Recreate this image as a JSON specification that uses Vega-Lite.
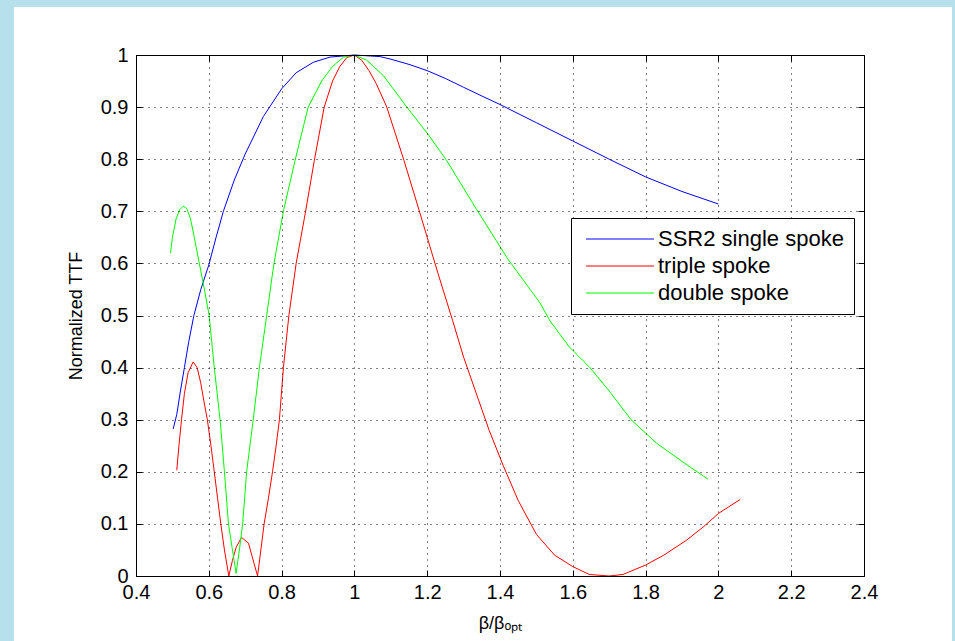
{
  "$schema": "https://vega.github.io/schema/vega-lite/v6.json",
  "width": 728,
  "height": 521,
  "autosize": "none",
  "padding": {"left": 136, "top": 55, "right": 91, "bottom": 65},
  "background": "#b7e0ed",
  "config": {
    "view": {"stroke": null},
    "font": "Liberation Sans",
    "axis": {
      "labelFont": "Liberation Sans",
      "titleFont": "Liberation Sans",
      "labelColor": "black",
      "titleColor": "black",
      "domainColor": "black",
      "tickColor": "black",
      "labelFontSize": 20,
      "titleFontSize": 18,
      "titleFontWeight": "normal",
      "labelFlush": false,
      "labelOverlap": false
    },
    "legend": {"labelFont": "Liberation Sans"}
  },
  "datasets": {
    "panel": [{"x0": 0.0648, "x1": 2.6418, "y0": -0.2, "y1": 1.0921}],
    "curves": [
      {"series": "SSR2 single spoke", "x": 0.502, "y": 0.282},
      {"series": "SSR2 single spoke", "x": 0.512, "y": 0.31},
      {"series": "SSR2 single spoke", "x": 0.522, "y": 0.355},
      {"series": "SSR2 single spoke", "x": 0.533, "y": 0.40},
      {"series": "SSR2 single spoke", "x": 0.545, "y": 0.45},
      {"series": "SSR2 single spoke", "x": 0.559, "y": 0.50},
      {"series": "SSR2 single spoke", "x": 0.578, "y": 0.55},
      {"series": "SSR2 single spoke", "x": 0.60, "y": 0.597},
      {"series": "SSR2 single spoke", "x": 0.62, "y": 0.65},
      {"series": "SSR2 single spoke", "x": 0.64, "y": 0.70},
      {"series": "SSR2 single spoke", "x": 0.67, "y": 0.76},
      {"series": "SSR2 single spoke", "x": 0.70, "y": 0.81},
      {"series": "SSR2 single spoke", "x": 0.75, "y": 0.882},
      {"series": "SSR2 single spoke", "x": 0.80, "y": 0.935},
      {"series": "SSR2 single spoke", "x": 0.84, "y": 0.966},
      {"series": "SSR2 single spoke", "x": 0.887, "y": 0.986},
      {"series": "SSR2 single spoke", "x": 0.933, "y": 0.996},
      {"series": "SSR2 single spoke", "x": 1.00, "y": 1.0},
      {"series": "SSR2 single spoke", "x": 1.07, "y": 0.997},
      {"series": "SSR2 single spoke", "x": 1.10, "y": 0.992},
      {"series": "SSR2 single spoke", "x": 1.15, "y": 0.982},
      {"series": "SSR2 single spoke", "x": 1.20, "y": 0.97},
      {"series": "SSR2 single spoke", "x": 1.25, "y": 0.955},
      {"series": "SSR2 single spoke", "x": 1.30, "y": 0.938},
      {"series": "SSR2 single spoke", "x": 1.345, "y": 0.923},
      {"series": "SSR2 single spoke", "x": 1.40, "y": 0.905},
      {"series": "SSR2 single spoke", "x": 1.50, "y": 0.87},
      {"series": "SSR2 single spoke", "x": 1.60, "y": 0.835},
      {"series": "SSR2 single spoke", "x": 1.70, "y": 0.80},
      {"series": "SSR2 single spoke", "x": 1.80, "y": 0.766},
      {"series": "SSR2 single spoke", "x": 1.90, "y": 0.738},
      {"series": "SSR2 single spoke", "x": 2.00, "y": 0.714},

      {"series": "triple spoke", "x": 0.512, "y": 0.203},
      {"series": "triple spoke", "x": 0.518, "y": 0.25},
      {"series": "triple spoke", "x": 0.525, "y": 0.30},
      {"series": "triple spoke", "x": 0.533, "y": 0.35},
      {"series": "triple spoke", "x": 0.543, "y": 0.39},
      {"series": "triple spoke", "x": 0.557, "y": 0.411},
      {"series": "triple spoke", "x": 0.568, "y": 0.40},
      {"series": "triple spoke", "x": 0.578, "y": 0.37},
      {"series": "triple spoke", "x": 0.588, "y": 0.33},
      {"series": "triple spoke", "x": 0.596, "y": 0.30},
      {"series": "triple spoke", "x": 0.606, "y": 0.25},
      {"series": "triple spoke", "x": 0.615, "y": 0.20},
      {"series": "triple spoke", "x": 0.624, "y": 0.15},
      {"series": "triple spoke", "x": 0.633, "y": 0.10},
      {"series": "triple spoke", "x": 0.643, "y": 0.05},
      {"series": "triple spoke", "x": 0.655, "y": 0.0},
      {"series": "triple spoke", "x": 0.665, "y": 0.03},
      {"series": "triple spoke", "x": 0.675, "y": 0.055},
      {"series": "triple spoke", "x": 0.69, "y": 0.074},
      {"series": "triple spoke", "x": 0.709, "y": 0.063},
      {"series": "triple spoke", "x": 0.72, "y": 0.035},
      {"series": "triple spoke", "x": 0.734, "y": 0.0},
      {"series": "triple spoke", "x": 0.743, "y": 0.05},
      {"series": "triple spoke", "x": 0.752, "y": 0.10},
      {"series": "triple spoke", "x": 0.764, "y": 0.15},
      {"series": "triple spoke", "x": 0.775, "y": 0.20},
      {"series": "triple spoke", "x": 0.785, "y": 0.25},
      {"series": "triple spoke", "x": 0.794, "y": 0.30},
      {"series": "triple spoke", "x": 0.805, "y": 0.40},
      {"series": "triple spoke", "x": 0.82, "y": 0.50},
      {"series": "triple spoke", "x": 0.84, "y": 0.60},
      {"series": "triple spoke", "x": 0.866, "y": 0.70},
      {"series": "triple spoke", "x": 0.89, "y": 0.798},
      {"series": "triple spoke", "x": 0.917, "y": 0.90},
      {"series": "triple spoke", "x": 0.94, "y": 0.95},
      {"series": "triple spoke", "x": 0.96, "y": 0.978},
      {"series": "triple spoke", "x": 0.979, "y": 0.995},
      {"series": "triple spoke", "x": 1.0, "y": 1.0},
      {"series": "triple spoke", "x": 1.02, "y": 0.99},
      {"series": "triple spoke", "x": 1.04, "y": 0.97},
      {"series": "triple spoke", "x": 1.06, "y": 0.945},
      {"series": "triple spoke", "x": 1.089, "y": 0.90},
      {"series": "triple spoke", "x": 1.136, "y": 0.798},
      {"series": "triple spoke", "x": 1.17, "y": 0.72},
      {"series": "triple spoke", "x": 1.20, "y": 0.65},
      {"series": "triple spoke", "x": 1.23, "y": 0.58},
      {"series": "triple spoke", "x": 1.27, "y": 0.49},
      {"series": "triple spoke", "x": 1.30, "y": 0.42},
      {"series": "triple spoke", "x": 1.34, "y": 0.34},
      {"series": "triple spoke", "x": 1.37, "y": 0.28},
      {"series": "triple spoke", "x": 1.41, "y": 0.21},
      {"series": "triple spoke", "x": 1.45, "y": 0.145},
      {"series": "triple spoke", "x": 1.50, "y": 0.08},
      {"series": "triple spoke", "x": 1.55, "y": 0.04},
      {"series": "triple spoke", "x": 1.60, "y": 0.018},
      {"series": "triple spoke", "x": 1.645, "y": 0.003},
      {"series": "triple spoke", "x": 1.70, "y": 0.0},
      {"series": "triple spoke", "x": 1.738, "y": 0.003},
      {"series": "triple spoke", "x": 1.80, "y": 0.021},
      {"series": "triple spoke", "x": 1.85, "y": 0.04},
      {"series": "triple spoke", "x": 1.913, "y": 0.069},
      {"series": "triple spoke", "x": 1.96, "y": 0.095},
      {"series": "triple spoke", "x": 2.0, "y": 0.12},
      {"series": "triple spoke", "x": 2.06, "y": 0.147},

      {"series": "double spoke", "x": 0.495, "y": 0.62},
      {"series": "double spoke", "x": 0.50, "y": 0.65},
      {"series": "double spoke", "x": 0.51, "y": 0.685},
      {"series": "double spoke", "x": 0.52, "y": 0.703},
      {"series": "double spoke", "x": 0.53, "y": 0.71},
      {"series": "double spoke", "x": 0.54, "y": 0.705},
      {"series": "double spoke", "x": 0.55, "y": 0.685},
      {"series": "double spoke", "x": 0.56, "y": 0.65},
      {"series": "double spoke", "x": 0.574, "y": 0.60},
      {"series": "double spoke", "x": 0.588, "y": 0.55},
      {"series": "double spoke", "x": 0.601, "y": 0.50},
      {"series": "double spoke", "x": 0.615, "y": 0.40},
      {"series": "double spoke", "x": 0.631, "y": 0.30},
      {"series": "double spoke", "x": 0.643, "y": 0.20},
      {"series": "double spoke", "x": 0.654, "y": 0.10},
      {"series": "double spoke", "x": 0.665, "y": 0.05},
      {"series": "double spoke", "x": 0.675, "y": 0.005},
      {"series": "double spoke", "x": 0.684, "y": 0.05},
      {"series": "double spoke", "x": 0.693, "y": 0.10},
      {"series": "double spoke", "x": 0.704, "y": 0.20},
      {"series": "double spoke", "x": 0.722, "y": 0.30},
      {"series": "double spoke", "x": 0.739, "y": 0.40},
      {"series": "double spoke", "x": 0.759, "y": 0.50},
      {"series": "double spoke", "x": 0.779, "y": 0.60},
      {"series": "double spoke", "x": 0.805, "y": 0.70},
      {"series": "double spoke", "x": 0.837, "y": 0.798},
      {"series": "double spoke", "x": 0.873, "y": 0.90},
      {"series": "double spoke", "x": 0.91, "y": 0.95},
      {"series": "double spoke", "x": 0.94, "y": 0.978},
      {"series": "double spoke", "x": 0.97, "y": 0.996},
      {"series": "double spoke", "x": 1.0, "y": 1.0},
      {"series": "double spoke", "x": 1.034, "y": 0.99},
      {"series": "double spoke", "x": 1.08, "y": 0.96},
      {"series": "double spoke", "x": 1.144, "y": 0.90},
      {"series": "double spoke", "x": 1.20, "y": 0.85},
      {"series": "double spoke", "x": 1.253, "y": 0.798},
      {"series": "double spoke", "x": 1.33, "y": 0.71},
      {"series": "double spoke", "x": 1.42, "y": 0.61},
      {"series": "double spoke", "x": 1.51, "y": 0.524},
      {"series": "double spoke", "x": 1.537, "y": 0.49},
      {"series": "double spoke", "x": 1.59, "y": 0.44},
      {"series": "double spoke", "x": 1.647, "y": 0.40},
      {"series": "double spoke", "x": 1.70, "y": 0.355},
      {"series": "double spoke", "x": 1.76, "y": 0.30},
      {"series": "double spoke", "x": 1.83, "y": 0.255},
      {"series": "double spoke", "x": 1.90, "y": 0.22},
      {"series": "double spoke", "x": 1.971, "y": 0.186}
    ]
  },
  "layer": [
    {
      "data": {"name": "panel"},
      "mark": {"type": "rect", "fill": "white", "stroke": null},
      "encoding": {
        "x": {"field": "x0", "type": "quantitative", "scale": {"domain": [0.4, 2.4], "clamp": false, "nice": false, "zero": false},
              "axis": {"orient": "top", "values": [0.4, 0.6, 0.8, 1, 1.2, 1.4, 1.6, 1.8, 2, 2.2, 2.4], "labels": false, "grid": false, "tickSize": -6, "title": null, "zindex": 1}},
        "x2": {"field": "x1"},
        "y": {"field": "y0", "type": "quantitative", "scale": {"domain": [0, 1], "clamp": false, "nice": false, "zero": false},
              "axis": {"orient": "right", "values": [0, 0.1, 0.2, 0.3, 0.4, 0.5, 0.6, 0.7, 0.8, 0.9, 1], "labels": false, "grid": false, "tickSize": -6, "title": null, "zindex": 1}},
        "y2": {"field": "y1"}
      }
    },
    {
      "data": {"name": "curves"},
      "mark": {"type": "line", "strokeWidth": 1, "interpolate": "linear"},
      "encoding": {
        "x": {"field": "x", "type": "quantitative", "scale": {"domain": [0.4, 2.4], "nice": false, "zero": false},
              "axis": {"orient": "bottom", "values": [0.4, 0.6, 0.8, 1, 1.2, 1.4, 1.6, 1.8, 2, 2.2, 2.4], "format": "~g",
                       "grid": true, "gridColor": "black", "gridDash": [1, 5], "gridWidth": 1, "gridOpacity": 1,
                       "tickSize": -6, "labelPadding": 12, "title": "β/βₒₚₜ", "titlePadding": 12, "zindex": 1}},
        "y": {"field": "y", "type": "quantitative", "scale": {"domain": [0, 1], "nice": false, "zero": false},
              "axis": {"orient": "left", "values": [0, 0.1, 0.2, 0.3, 0.4, 0.5, 0.6, 0.7, 0.8, 0.9, 1], "format": "~g",
                       "grid": true, "gridColor": "black", "gridDash": [1, 5], "gridWidth": 1, "gridOpacity": 1,
                       "tickSize": -6, "labelPadding": 14, "title": "Normalized TTF", "titlePadding": 15, "zindex": 1}},
        "color": {"field": "series", "type": "nominal",
                  "scale": {"domain": ["SSR2 single spoke", "triple spoke", "double spoke"], "range": ["#0000ff", "#ff0000", "#00ff00"]},
                  "legend": {"orient": "none", "legendX": 435, "legendY": 163, "title": null, "zindex": 2,
                             "strokeColor": "black", "fillColor": "white", "padding": 10,
                             "symbolType": "M-6.8,0H6.8", "symbolSize": 100, "symbolStrokeWidth": 1, "symbolOffset": 28,
                             "labelFontSize": 22, "labelLimit": 400, "labelColor": "black", "labelOffset": 27, "rowPadding": 5}},
        "order": {"field": "x", "type": "quantitative"}
      }
    }
  ],
  "resolve": {"axis": {"x": "independent", "y": "independent"}}
}
